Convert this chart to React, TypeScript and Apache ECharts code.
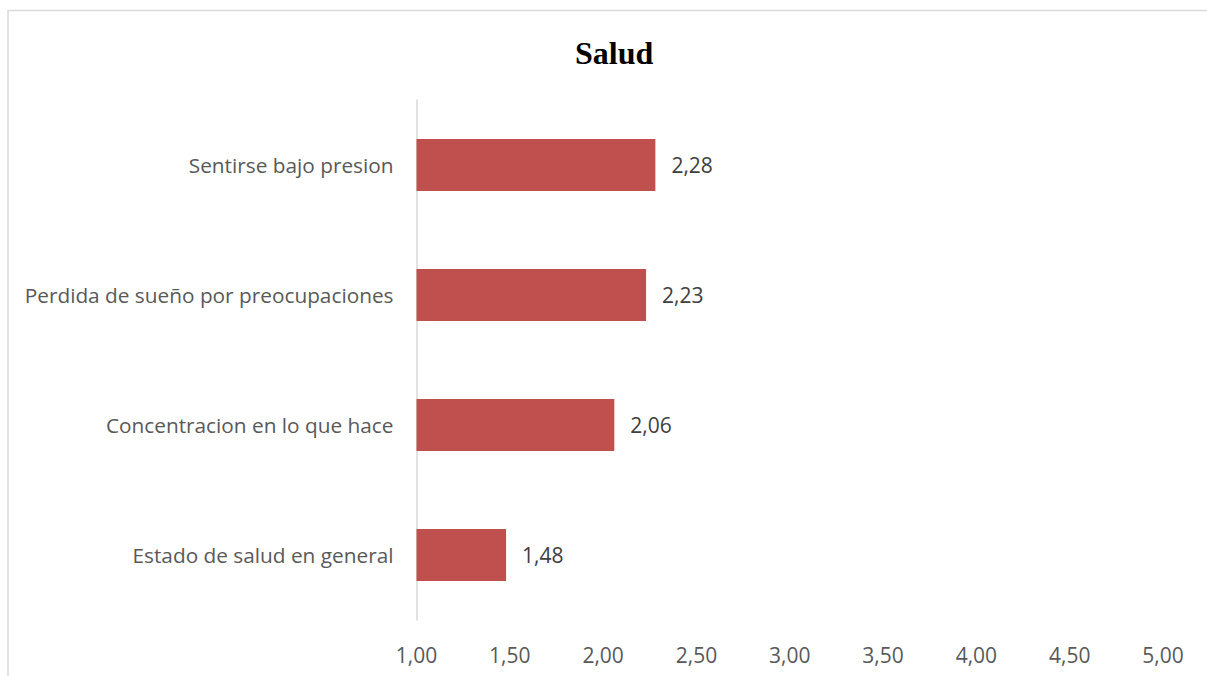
import React, { useEffect, useRef } from "react";
import * as echarts from "echarts";

const categories = [
  "Estado de salud en general",
  "Concentracion en lo que hace",
  "Perdida de sueño por preocupaciones",
  "Sentirse bajo presion",
];
const values = [1.48, 2.06, 2.23, 2.28];
const axisMin = 1;
const axisMax = 5;
const axisStep = 0.5;
const titleText = "Salud";

const fmt = (v: number) => v.toFixed(2).replace(".", ",");

export default function App() {
  const ref = useRef<HTMLDivElement>(null);
  useEffect(() => {
    if (!ref.current) return;
    const chart = echarts.init(ref.current, undefined, { renderer: "svg" });
    chart.setOption({
      animation: false,
      backgroundColor: "#ffffff",
      title: {
        text: titleText,
        left: 570,
        top: 32,
        textStyle: {
          fontFamily: "Liberation Serif",
          fontWeight: "bold",
          fontSize: 32,
          color: "#000000",
        },
      },
      graphic: [
        {
          type: "rect",
          shape: { x: 8, y: 10.5, width: 1230, height: 700 },
          style: { fill: "none", stroke: "#d9d9d9", lineWidth: 1.5 },
          silent: true,
        },
      ],
      grid: { left: 416.5, right: 44, top: 100, bottom: 56, containLabel: false },
      xAxis: {
        type: "value",
        min: axisMin,
        max: axisMax,
        interval: axisStep,
        axisLine: { show: false },
        axisTick: { show: false },
        splitLine: { show: false },
        axisLabel: {
          formatter: (v: number) => fmt(v),
          color: "#595959",
          fontFamily: "Open Sans",
          fontSize: 21,
          margin: 24,
        },
      },
      yAxis: {
        type: "category",
        data: categories,
        axisLine: { show: true, lineStyle: { color: "#d9d9d9", width: 1.5 } },
        axisTick: { show: false },
        axisLabel: {
          color: "#595959",
          fontFamily: "Open Sans",
          fontSize: 20.8,
          margin: 23,
        },
      },
      series: [
        {
          type: "bar",
          data: values,
          barCategoryGap: "60%",
          itemStyle: { color: "#c0504d" },
          label: {
            show: true,
            position: "right",
            distance: 16,
            formatter: (p: any) => fmt(p.value),
            color: "#404040",
            fontFamily: "Open Sans",
            fontSize: 21,
          },
        },
      ],
    });
    return () => chart.dispose();
  }, []);
  return (
    <div
      ref={ref}
      style={{ position: "absolute", left: 0, top: 0, width: 1207, height: 676 }}
    />
  );
}
